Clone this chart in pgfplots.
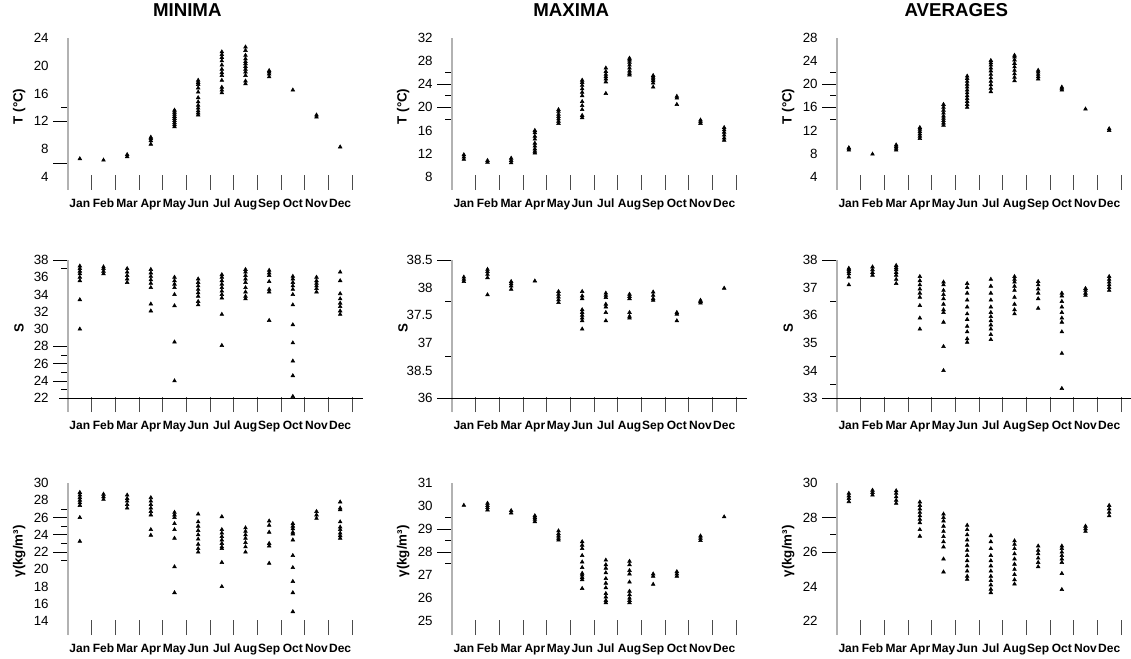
\documentclass[border=0pt]{standalone}
\usepackage{fontspec}
\setmainfont{Liberation Sans}
\usepackage{pgfplots}
\usepackage{pgfplotstable}
\pgfplotsset{compat=1.18}

% ---------- data: month (1..12), value ----------
\pgfplotstableread[row sep=\\]{m v\\
1 6.6\\ 2 6.4\\ 3 6.9\\ 3 7.2\\
4 8.7\\ 4 9.2\\ 4 9.5\\ 4 9.7\\
5 11.2\\ 5 11.5\\ 5 11.8\\ 5 12.1\\ 5 12.4\\ 5 12.7\\ 5 13.0\\ 5 13.3\\ 5 13.6\\
6 12.9\\ 6 13.2\\ 6 13.5\\ 6 13.9\\ 6 14.3\\ 6 14.8\\ 6 15.4\\ 6 16.2\\ 6 16.8\\ 6 17.3\\ 6 17.6\\ 6 17.9\\
7 16.1\\ 7 16.5\\ 7 16.9\\ 7 17.9\\ 7 18.6\\ 7 19.0\\ 7 19.5\\ 7 20.1\\ 7 20.7\\ 7 21.2\\ 7 21.6\\ 7 22.0\\
8 17.4\\ 8 17.8\\ 8 18.6\\ 8 19.1\\ 8 19.5\\ 8 19.9\\ 8 20.3\\ 8 20.6\\ 8 21.0\\ 8 21.5\\ 8 22.2\\ 8 22.7\\
9 18.4\\ 9 18.8\\ 9 19.1\\ 9 19.3\\
10 16.5\\ 11 12.6\\ 11 12.9\\ 12 8.3\\
}\tminT
\pgfplotstableread[row sep=\\]{m v\\
1 11.0\\ 1 11.4\\ 1 11.8\\ 2 10.5\\ 2 10.8\\ 3 10.4\\ 3 10.8\\ 3 11.2\\
4 12.1\\ 4 12.4\\ 4 12.8\\ 4 13.3\\ 4 13.8\\ 4 14.5\\ 4 15.0\\ 4 15.6\\ 4 16.0\\
5 17.2\\ 5 17.6\\ 5 18.0\\ 5 18.4\\ 5 18.8\\ 5 19.3\\ 5 19.6\\
6 18.2\\ 6 18.6\\ 6 19.6\\ 6 20.3\\ 6 21.0\\ 6 22.0\\ 6 22.6\\ 6 23.2\\ 6 23.8\\ 6 24.3\\ 6 24.7\\
7 22.4\\ 7 24.4\\ 7 24.9\\ 7 25.3\\ 7 25.7\\ 7 26.2\\ 7 26.8\\
8 25.6\\ 8 25.9\\ 8 26.3\\ 8 26.8\\ 8 27.3\\ 8 27.8\\ 8 28.2\\ 8 28.5\\
9 23.5\\ 9 24.2\\ 9 24.6\\ 9 24.9\\ 9 25.2\\ 9 25.5\\
10 20.5\\ 10 21.6\\ 10 21.9\\ 11 17.2\\ 11 17.5\\ 11 17.8\\
12 14.3\\ 12 14.7\\ 12 15.2\\ 12 15.7\\ 12 16.1\\ 12 16.5\\
}\tmaxT
\pgfplotstableread[row sep=\\]{m v\\
1 8.6\\ 1 8.9\\ 1 9.0\\ 2 7.9\\ 3 8.6\\ 3 8.9\\ 3 9.2\\ 3 9.5\\
4 10.6\\ 4 11.0\\ 4 11.4\\ 4 11.8\\ 4 12.2\\ 4 12.5\\
5 12.9\\ 5 13.3\\ 5 13.7\\ 5 14.1\\ 5 14.5\\ 5 15.0\\ 5 15.5\\ 5 16.0\\ 5 16.5\\
6 16.0\\ 6 16.5\\ 6 17.0\\ 6 17.5\\ 6 18.0\\ 6 18.5\\ 6 19.0\\ 6 19.5\\ 6 20.0\\ 6 20.5\\ 6 21.0\\ 6 21.4\\
7 18.7\\ 7 19.3\\ 7 19.9\\ 7 20.5\\ 7 21.1\\ 7 21.7\\ 7 22.3\\ 7 22.8\\ 7 23.3\\ 7 23.7\\ 7 24.1\\
8 20.6\\ 8 21.2\\ 8 21.8\\ 8 22.4\\ 8 23.0\\ 8 23.6\\ 8 24.2\\ 8 24.7\\ 8 25.0\\
9 20.9\\ 9 21.3\\ 9 21.7\\ 9 22.1\\ 9 22.4\\
10 19.0\\ 10 19.3\\ 10 19.5\\ 11 15.7\\ 12 12.0\\ 12 12.3\\
}\tavgT
\pgfplotstableread[row sep=\\]{m v\\
1 35.6\\ 1 36.0\\ 1 36.4\\ 1 36.7\\ 1 37.0\\ 1 37.3\\ 1 33.4\\ 1 30.0\\
2 36.4\\ 2 36.7\\ 2 37.0\\ 2 37.2\\
3 35.4\\ 3 35.8\\ 3 36.2\\ 3 36.6\\ 3 37.0\\
4 34.8\\ 4 35.3\\ 4 35.7\\ 4 36.1\\ 4 36.5\\ 4 36.9\\ 4 32.9\\ 4 32.1\\
5 34.0\\ 5 34.8\\ 5 35.2\\ 5 35.6\\ 5 36.0\\ 5 32.7\\ 5 28.5\\ 5 24.0\\
6 32.8\\ 6 33.2\\ 6 33.8\\ 6 34.2\\ 6 34.6\\ 6 35.0\\ 6 35.4\\ 6 35.8\\
7 33.6\\ 7 34.0\\ 7 34.4\\ 7 34.8\\ 7 35.2\\ 7 35.6\\ 7 36.0\\ 7 36.3\\ 7 31.7\\ 7 28.1\\
8 33.5\\ 8 33.8\\ 8 34.3\\ 8 34.8\\ 8 35.4\\ 8 35.8\\ 8 36.2\\ 8 36.6\\ 8 36.9\\
9 34.3\\ 9 34.6\\ 9 35.5\\ 9 36.2\\ 9 36.5\\ 9 36.8\\ 9 31.0\\
10 34.0\\ 10 34.6\\ 10 35.0\\ 10 35.4\\ 10 35.8\\ 10 36.1\\ 10 32.8\\ 10 30.5\\ 10 28.4\\ 10 26.3\\ 10 24.6\\ 10 22.2\\
11 34.3\\ 11 34.7\\ 11 35.0\\ 11 35.3\\ 11 35.6\\ 11 36.0\\
12 36.6\\ 12 35.6\\ 12 34.1\\ 12 33.5\\ 12 33.0\\ 12 32.6\\ 12 32.1\\ 12 31.7\\
}\tminS
\pgfplotstableread[row sep=\\]{m v\\
1 38.11\\ 1 38.15\\ 1 38.19\\
2 38.33\\ 2 38.29\\ 2 38.24\\ 2 38.18\\ 2 37.87\\
3 37.97\\ 3 38.03\\ 3 38.07\\ 3 38.11\\
4 38.12\\
5 37.73\\ 5 37.78\\ 5 37.83\\ 5 37.88\\ 5 37.93\\
6 37.25\\ 6 37.40\\ 6 37.45\\ 6 37.50\\ 6 37.55\\ 6 37.60\\ 6 37.80\\ 6 37.85\\ 6 37.93\\
7 37.40\\ 7 37.55\\ 7 37.65\\ 7 37.70\\ 7 37.82\\ 7 37.86\\ 7 37.90\\
8 37.45\\ 8 37.48\\ 8 37.55\\ 8 37.80\\ 8 37.84\\ 8 37.88\\
9 37.77\\ 9 37.80\\ 9 37.86\\ 9 37.92\\
10 37.40\\ 10 37.52\\ 10 37.55\\
11 37.72\\ 11 37.75\\ 11 37.77\\
12 37.99\\
}\tmaxS
\pgfplotstableread[row sep=\\]{m v\\
1 37.10\\ 1 37.38\\ 1 37.50\\ 1 37.58\\ 1 37.65\\ 1 37.70\\
2 37.45\\ 2 37.55\\ 2 37.65\\ 2 37.75\\
3 37.15\\ 3 37.30\\ 3 37.45\\ 3 37.55\\ 3 37.65\\ 3 37.72\\ 3 37.80\\
4 35.50\\ 4 35.90\\ 4 36.35\\ 4 36.65\\ 4 36.80\\ 4 36.95\\ 4 37.10\\ 4 37.25\\ 4 37.40\\
5 37.20\\ 5 37.10\\ 5 36.90\\ 5 36.75\\ 5 36.60\\ 5 36.40\\ 5 36.20\\ 5 36.10\\ 5 35.75\\ 5 34.87\\ 5 34.00\\
6 35.02\\ 6 35.15\\ 6 35.40\\ 6 35.60\\ 6 35.85\\ 6 36.05\\ 6 36.30\\ 6 36.55\\ 6 36.80\\ 6 37.00\\ 6 37.15\\
7 35.12\\ 7 35.30\\ 7 35.50\\ 7 35.65\\ 7 35.80\\ 7 35.95\\ 7 36.10\\ 7 36.30\\ 7 36.55\\ 7 36.80\\ 7 37.05\\ 7 37.30\\
8 36.05\\ 8 36.20\\ 8 36.40\\ 8 36.65\\ 8 36.90\\ 8 37.05\\ 8 37.20\\ 8 37.30\\ 8 37.40\\
9 36.25\\ 9 36.60\\ 9 36.80\\ 9 36.95\\ 9 37.10\\ 9 37.22\\
10 33.35\\ 10 34.62\\ 10 35.40\\ 10 35.75\\ 10 35.90\\ 10 36.10\\ 10 36.30\\ 10 36.50\\ 10 36.70\\ 10 36.80\\
11 36.72\\ 11 36.80\\ 11 36.90\\ 11 36.97\\
12 36.90\\ 12 37.00\\ 12 37.10\\ 12 37.20\\ 12 37.30\\ 12 37.40\\
}\tavgS
\pgfplotstableread[row sep=\\]{m v\\
1 27.4\\ 1 27.7\\ 1 28.0\\ 1 28.3\\ 1 28.6\\ 1 28.9\\ 1 26.0\\ 1 23.25\\
2 28.1\\ 2 28.4\\ 2 28.7\\
3 27.1\\ 3 27.5\\ 3 27.9\\ 3 28.2\\ 3 28.6\\
4 26.3\\ 4 26.7\\ 4 27.1\\ 4 27.5\\ 4 27.9\\ 4 28.3\\ 4 24.6\\ 4 23.95\\
5 26.0\\ 5 26.3\\ 5 26.6\\ 5 25.3\\ 5 24.6\\ 5 23.6\\ 5 20.3\\ 5 17.3\\
6 26.4\\ 6 25.5\\ 6 25.0\\ 6 24.5\\ 6 24.0\\ 6 23.5\\ 6 22.9\\ 6 22.4\\ 6 22.0\\
7 26.1\\ 7 24.6\\ 7 24.2\\ 7 23.8\\ 7 23.4\\ 7 23.0\\ 7 22.6\\ 7 22.4\\ 7 20.8\\ 7 18.0\\
8 24.8\\ 8 24.4\\ 8 24.0\\ 8 23.6\\ 8 23.1\\ 8 22.6\\ 8 22.0\\
9 25.6\\ 9 25.1\\ 9 24.3\\ 9 23.0\\ 9 22.7\\ 9 20.7\\
10 25.3\\ 10 25.0\\ 10 24.7\\ 10 24.3\\ 10 24.1\\ 10 23.4\\ 10 21.6\\ 10 20.2\\ 10 18.6\\ 10 17.3\\ 10 15.1\\
11 25.9\\ 11 26.3\\ 11 26.7\\
12 27.8\\ 12 26.9\\ 12 27.1\\ 12 25.5\\ 12 24.9\\ 12 24.6\\ 12 24.2\\ 12 23.9\\ 12 23.6\\
}\tminG
\pgfplotstableread[row sep=\\]{m v\\
1 30.03\\
2 29.83\\ 2 29.93\\ 2 30.02\\ 2 30.12\\
3 29.70\\ 3 29.80\\
4 29.32\\ 4 29.42\\ 4 29.50\\ 4 29.58\\
5 28.52\\ 5 28.60\\ 5 28.70\\ 5 28.80\\ 5 28.92\\
6 26.42\\ 6 26.80\\ 6 26.90\\ 6 27.00\\ 6 27.08\\ 6 27.33\\ 6 27.57\\ 6 27.85\\ 6 28.15\\ 6 28.30\\ 6 28.45\\
7 25.80\\ 7 25.90\\ 7 26.05\\ 7 26.20\\ 7 26.45\\ 7 26.65\\ 7 26.85\\ 7 27.10\\ 7 27.30\\ 7 27.45\\ 7 27.65\\
8 25.80\\ 8 25.90\\ 8 26.00\\ 8 26.15\\ 8 26.30\\ 8 26.70\\ 8 27.05\\ 8 27.20\\ 8 27.45\\ 8 27.60\\
9 26.60\\ 9 26.95\\ 9 27.05\\
10 26.95\\ 10 27.05\\ 10 27.15\\
11 28.50\\ 11 28.60\\ 11 28.70\\
12 29.53\\
}\tmaxG
\pgfplotstableread[row sep=\\]{m v\\
1 28.92\\ 1 29.10\\ 1 29.25\\ 1 29.40\\
2 29.30\\ 2 29.45\\ 2 29.58\\
3 28.82\\ 3 29.00\\ 3 29.20\\ 3 29.40\\ 3 29.55\\
4 26.92\\ 4 27.30\\ 4 27.70\\ 4 27.90\\ 4 28.10\\ 4 28.30\\ 4 28.50\\ 4 28.70\\ 4 28.90\\
5 24.85\\ 5 25.60\\ 5 26.30\\ 5 26.60\\ 5 26.90\\ 5 27.20\\ 5 27.50\\ 5 27.80\\ 5 28.00\\ 5 28.20\\
6 24.42\\ 6 24.60\\ 6 24.90\\ 6 25.20\\ 6 25.50\\ 6 25.80\\ 6 26.10\\ 6 26.40\\ 6 26.70\\ 6 27.00\\ 6 27.30\\ 6 27.55\\
7 23.65\\ 7 23.85\\ 7 24.10\\ 7 24.35\\ 7 24.60\\ 7 24.90\\ 7 25.20\\ 7 25.50\\ 7 25.80\\ 7 26.20\\ 7 26.60\\ 7 26.95\\
8 24.15\\ 8 24.40\\ 8 24.70\\ 8 25.00\\ 8 25.30\\ 8 25.60\\ 8 25.90\\ 8 26.20\\ 8 26.45\\ 8 26.65\\
9 25.15\\ 9 25.40\\ 9 25.65\\ 9 25.90\\ 9 26.10\\ 9 26.35\\
10 23.83\\ 10 24.76\\ 10 25.40\\ 10 25.60\\ 10 25.80\\ 10 26.00\\ 10 26.20\\ 10 26.35\\
11 27.20\\ 11 27.35\\ 11 27.50\\
12 28.10\\ 12 28.30\\ 12 28.50\\ 12 28.70\\
}\tavgG

\tikzset{yline/.style={draw=black!30, line width=1.4pt}}
\pgfplotsset{
 panel/.style={
  scale only axis, width=213pt, height=114pt, anchor=south west,
  axis x line*=bottom, axis y line*=left,
  axis line style={draw=none},
  xmin=0.5, xmax=12.5,
  xtick={1,...,12},
  xticklabels={Jan,Feb,Mar,Apr,May,Jun,Jul,Aug,Sep,Oct,Nov,Dec},
  major tick length=0pt,
  minor tick length=5pt,
  xtick align=inside, ytick align=outside,
  extra x ticks={0.5,1.5,2.5,3.5,4.5,5.5,6.5,7.5,8.5,9.5,10.5,11.5,12.5},
  extra x tick labels={},
  extra x tick style={major tick length=11pt, major tick style={draw=black!70, line width=0.6pt}},
  extra y tick labels={},
  extra y tick style={major tick length=11pt, major tick style={draw=black, line width=0.6pt}},
  minor tick style={draw=black, line width=0.6pt},
  xticklabel style={font=\bfseries\fontsize{9}{10}\selectfont, inner sep=0pt, text height=6.8pt, text depth=2pt, yshift=-6pt},
  yticklabel style={font=\fontsize{10}{11}\selectfont, xshift=-11pt},
  /pgf/number format/assume math mode=true,
  ylabel style={font=\bfseries\fontsize{10}{12}\selectfont, at={(axis description cs:-0.172,0.55)}, anchor=center},
  title style={font=\bfseries\fontsize{14}{16}\selectfont, at={(axis description cs:0.42,1)}, anchor=center, yshift=15pt},
  clip=false,
 },
 pts/.style={only marks, mark=triangle*, mark size=1.6pt, black},
}

\begin{document}
\begin{tikzpicture}
\path[use as bounding box] (0,0) rectangle (848.25pt,493.5pt);

% ---------- row 1: temperature ----------
\begin{axis}[panel, at={(51pt,351pt)}, title={MINIMA}, ylabel={T (°C)},
  ymin=2.1, ymax=24, ytick={4,8,...,24},
  extra y ticks={6,12}, minor ytick={14}]
\draw[yline] (rel axis cs:0,0) -- (rel axis cs:0,1);
\addplot[pts] table[x=m,y=v]{\tminT};
\end{axis}
\begin{axis}[panel, at={(339pt,351pt)}, title={MAXIMA}, ylabel={T (°C)},
  ymin=5.7, ymax=32, ytick={8,12,...,32},
  extra y ticks={20,24}, minor ytick={18,22,26}]
\draw[yline] (rel axis cs:0,0) -- (rel axis cs:0,1);
\addplot[pts] table[x=m,y=v]{\tmaxT};
\end{axis}
\begin{axis}[panel, at={(627.75pt,351pt)}, title={AVERAGES}, ylabel={T (°C)},
  ymin=1.7, ymax=28, ytick={4,8,...,28},
  extra y ticks={16,20}, minor ytick={14,18,22}]
\draw[yline] (rel axis cs:0,0) -- (rel axis cs:0,1);
\addplot[pts] table[x=m,y=v]{\tavgT};
\end{axis}

% ---------- row 2: salinity ----------
\begin{axis}[panel, at={(51pt,184.5pt)}, ylabel={S},
  ymin=20.4, ymax=38, ytick={22,24,...,38},
  extra y ticks={24,26,28,38}, minor ytick={23,25,27,37}]
\draw[yline] (rel axis cs:0,0) -- (rel axis cs:0,1);
\draw[black, line width=0.8pt] (axis cs:0.12,22) -- (axis cs:12.96,22);
\addplot[pts] table[x=m,y=v]{\tminS};
\end{axis}
\begin{axis}[panel, at={(339pt,184.5pt)}, ylabel={S},
  ymin=35.75, ymax=38.5, ytick={36,36.5,37,37.5,38,38.5},
  yticklabels={36,38.5,37,37.5,38,38.5},
  extra y ticks={38.5}, minor ytick={36.75,37.75}]
\draw[yline] (rel axis cs:0,0) -- (rel axis cs:0,1);
\draw[black, line width=0.8pt] (axis cs:-0.13,36) -- (axis cs:12.96,36);
\addplot[pts] table[x=m,y=v]{\tmaxS};
\end{axis}
\begin{axis}[panel, at={(627.75pt,184.5pt)}, ylabel={S},
  ymin=32.5, ymax=38, ytick={33,34,...,38},
  extra y ticks={38}, minor ytick={33.5,34.5,36.5}]
\draw[yline] (rel axis cs:0,0) -- (rel axis cs:0,1);
\draw[black, line width=0.8pt] (axis cs:-0.13,33) -- (axis cs:12.92,33);
\addplot[pts] table[x=m,y=v]{\tavgS};
\end{axis}

% ---------- row 3: density ----------
\begin{axis}[panel, at={(51pt,17.25pt)}, ylabel={γ(kg/m³)},
  ymin=12.4, ymax=30, ytick={14,16,...,30},
  extra y ticks={22,24,26}, minor ytick={21,23,25,27}]
\draw[yline] (rel axis cs:0,0) -- (rel axis cs:0,1);
\addplot[pts] table[x=m,y=v]{\tminG};
\end{axis}
\begin{axis}[panel, at={(339pt,17.25pt)}, ylabel={γ(kg/m³)},
  ymin=24.4, ymax=31, ytick={25,26,...,31},
  extra y ticks={28,29}, minor ytick={27.5,28.5,29.5}]
\draw[yline] (rel axis cs:0,0) -- (rel axis cs:0,1);
\addplot[pts] table[x=m,y=v]{\tmaxG};
\end{axis}
\begin{axis}[panel, at={(627.75pt,17.25pt)}, ylabel={γ(kg/m³)},
  ymin=21.2, ymax=30, ytick={22,24,...,30},
  extra y ticks={26,28}, minor ytick={27}]
\draw[yline] (rel axis cs:0,0) -- (rel axis cs:0,1);
\addplot[pts] table[x=m,y=v]{\tavgG};
\end{axis}
\end{tikzpicture}
\end{document}
